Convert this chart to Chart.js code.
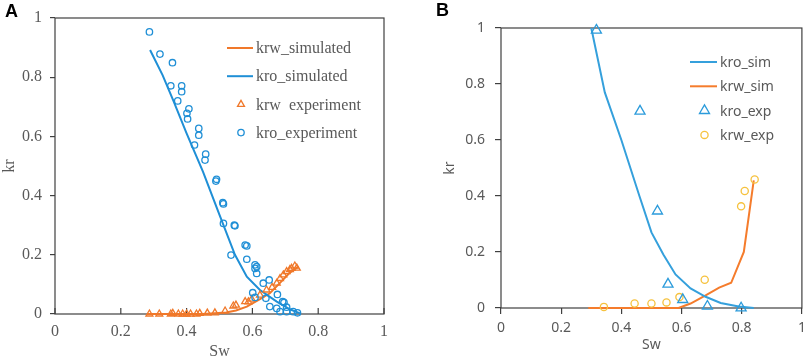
<!DOCTYPE html>
<html>
<head>
<meta charset="utf-8">
<script src="https://cdn.jsdelivr.net/npm/chart.js@4.4.1/dist/chart.umd.min.js"></script>
<style>
  body { margin: 0; background: #fff; width: 809px; height: 358px; position: relative; overflow: hidden; }
  .wrap { position: absolute; top: 0; height: 358px; }
  #wrapA { left: 0; width: 405px; }
  #wrapB { left: 405px; width: 404px; }
  .tag { position: absolute; font: bold 18px "Liberation Sans", Arial, sans-serif; color: #000; }
</style>
</head>
<body>
<div class="wrap" id="wrapA"><canvas id="chartA"></canvas></div>
<div class="wrap" id="wrapB"><canvas id="chartB"></canvas></div>
<div class="tag" style="left:5px;top:1px">A</div>
<div class="tag" style="left:436px;top:0px">B</div>
<script>
// ---- panel A data (Sw, kr) ----
const krwSimA = [[0.28, 0], [0.45, 0], [0.52, 0.005], [0.55, 0.012], [0.583, 0.025], [0.623, 0.05],
  [0.653, 0.07], [0.684, 0.105], [0.714, 0.14], [0.74, 0.16]];
const kroSimA = [[0.289, 0.892], [0.327, 0.807], [0.36, 0.72], [0.40, 0.61], [0.45, 0.48], [0.50, 0.335],
  [0.547, 0.20], [0.583, 0.126], [0.623, 0.081], [0.674, 0.042], [0.714, 0.016], [0.745, 0.002]];
const krwExpA = [[0.287, 0], [0.317, 0], [0.352, 0], [0.358, 0.002], [0.375, 0], [0.388, 0], [0.40, 0],
  [0.412, 0], [0.43, 0], [0.44, 0.002], [0.463, 0.003], [0.486, 0.004], [0.517, 0.01], [0.542, 0.027],
  [0.55, 0.03], [0.578, 0.042], [0.588, 0.041], [0.598, 0.05], [0.623, 0.064], [0.643, 0.081],
  [0.66, 0.09], [0.674, 0.104], [0.684, 0.12], [0.694, 0.132], [0.704, 0.143], [0.714, 0.15],
  [0.719, 0.154], [0.729, 0.162], [0.735, 0.155]];
const kroExpA = [[0.287, 0.953], [0.319, 0.878], [0.357, 0.849], [0.352, 0.771], [0.385, 0.771],
  [0.385, 0.751], [0.373, 0.72], [0.407, 0.693], [0.401, 0.678], [0.403, 0.659], [0.437, 0.627],
  [0.437, 0.604], [0.424, 0.571], [0.458, 0.54], [0.456, 0.52], [0.491, 0.455], [0.489, 0.449],
  [0.51, 0.376], [0.512, 0.372], [0.512, 0.306], [0.545, 0.30], [0.547, 0.298], [0.535, 0.199],
  [0.578, 0.233], [0.583, 0.23], [0.583, 0.185], [0.608, 0.166], [0.613, 0.16], [0.608, 0.154],
  [0.613, 0.137], [0.651, 0.115], [0.633, 0.104], [0.601, 0.072], [0.608, 0.056], [0.641, 0.053],
  [0.676, 0.066], [0.692, 0.042], [0.696, 0.039], [0.653, 0.025], [0.674, 0.019], [0.704, 0.023],
  [0.684, 0.008], [0.704, 0.008], [0.724, 0.008], [0.737, 0.004]];

// ---- panel B data (Sw, kr) ----
const kroSimB = [[0.30, 1.0], [0.345, 0.77], [0.40, 0.60], [0.46, 0.40], [0.50, 0.27], [0.54, 0.19],
  [0.58, 0.12], [0.63, 0.07], [0.68, 0.04], [0.73, 0.018], [0.79, 0.005], [0.84, 0.0]];
const krwSimB = [[0.29, 0], [0.59, 0], [0.63, 0.016], [0.68, 0.045], [0.725, 0.073], [0.765, 0.09],
  [0.807, 0.2], [0.84, 0.456]];
const kroExpB = [[0.317, 0.992], [0.462, 0.703], [0.52, 0.346], [0.555, 0.085], [0.604, 0.03],
  [0.686, 0.006], [0.798, 0.0]];
const krwExpB = [[0.342, 0.004], [0.444, 0.016], [0.50, 0.016], [0.55, 0.02], [0.593, 0.039],
  [0.677, 0.101], [0.798, 0.363], [0.81, 0.418], [0.843, 0.459]];

const axisTicks = [0, 0.2, 0.4, 0.6, 0.8, 1];

const toXY = (arr) => arr.map((p) => ({ x: p[0], y: p[1] }));

function lineSet(label, data, color) {
  return { label, data: toXY(data), showLine: true, borderColor: color, borderWidth: 2,
    pointRadius: 0, tension: 0, clip: false, legendKind: "line" };
}
function pointSet(label, data, color, style, radius) {
  return { label, data: toXY(data), showLine: false, borderColor: color, backgroundColor: "rgba(0,0,0,0)",
    pointStyle: style, pointRadius: radius, borderWidth: 1.3, clip: false, legendKind: "point" };
}

function marker(ctx, style, r, x, y) {
  ctx.beginPath();
  if (style === "triangle") {
    let rad = 0;
    ctx.moveTo(x + Math.sin(rad) * r, y - Math.cos(rad) * r);
    rad += Math.PI * 2 / 3;
    ctx.lineTo(x + Math.sin(rad) * r, y - Math.cos(rad) * r);
    rad += Math.PI * 2 / 3;
    ctx.lineTo(x + Math.sin(rad) * r, y - Math.cos(rad) * r);
    ctx.closePath();
  } else {
    ctx.arc(x, y, r, 0, Math.PI * 2);
  }
  ctx.stroke();
}

// box round the plot area, inward x ticks where asked, and a legend inside the plot
const framePlugin = {
  id: "frame",
  beforeDatasetsDraw(chart, args, opts) {
    const { ctx, chartArea: a, scales } = chart;
    ctx.save();
    ctx.strokeStyle = "#404040";
    ctx.lineWidth = 1.2;
    ctx.strokeRect(a.left, a.top, a.right - a.left, a.bottom - a.top);
    if (opts.innerXTicks) {
      axisTicks.forEach((v) => {
        const px = scales.x.getPixelForValue(v);
        ctx.beginPath();
        ctx.moveTo(px, a.bottom);
        ctx.lineTo(px, a.bottom - opts.innerXTicks);
        ctx.stroke();
      });
    }
    ctx.restore();
  },
  afterDatasetsDraw(chart, args, opts) {
    const { ctx } = chart;
    const L = opts.legend;
    ctx.save();
    ctx.font = L.font;
    ctx.textBaseline = "middle";
    ctx.fillStyle = "#595959";
    L.order.forEach((idx, i) => {
      const ds = chart.data.datasets[idx];
      const y = L.y + i * L.gap;
      ctx.strokeStyle = ds.borderColor;
      if (ds.legendKind === "line") {
        ctx.lineWidth = 2;
        ctx.beginPath();
        ctx.moveTo(L.x, y);
        ctx.lineTo(L.x + L.lineLen, y);
        ctx.stroke();
      } else {
        ctx.lineWidth = 1.3;
        marker(ctx, ds.pointStyle, ds.pointRadius, L.x + L.lineLen / 2 + 1, y);
      }
      ctx.fillText(ds.label, L.textX, y + 1);
    });
    ctx.restore();
  },
};

function scaleOpts(cfg) {
  return {
    type: "linear", min: 0, max: 1,
    ticks: { stepSize: 0.2, color: "#595959", font: cfg.font, padding: cfg.pad,
      callback: (v) => String(+Number(v).toFixed(1)) },
    grid: { drawOnChartArea: false, drawTicks: cfg.tick > 0, tickLength: cfg.tick, color: "#404040", lineWidth: 1.2 },
    border: { display: false },
    title: { display: true, text: cfg.title, color: "#595959", font: cfg.titleFont, padding: cfg.titlePad },
    afterFit: cfg.fit,
  };
}

// x axis: fixed height, and no extra side padding for the end labels
const fitX = (h) => (s) => { s.height = h; s.paddingLeft = 0; s.paddingRight = 0; };

// ---- panel A ----
const serif = "'Liberation Serif', 'Times New Roman', serif";
new Chart(document.getElementById("chartA"), {
  type: "scatter",
  data: {
    datasets: [
      pointSet("kro_experiment", kroExpA, "#1f8fd6", "circle", 3.2),
      pointSet("krw  experiment", krwExpA, "#f0782a", "triangle", 4),
      lineSet("kro_simulated", kroSimA, "#1f8fd6"),
      lineSet("krw_simulated", krwSimA, "#f0782a"),
    ],
  },
  options: {
    responsive: true, maintainAspectRatio: false, animation: false,
    layout: { padding: { left: 0, top: 18, right: 21, bottom: 0 } },
    scales: {
      x: scaleOpts({ font: { family: serif, size: 16 }, pad: 8, tick: 0, title: "Sw",
        titleFont: { family: serif, size: 16, lineHeight: 0.8 }, titlePad: { top: 0, bottom: 0 },
        fit: fitX(44) }),
      y: scaleOpts({ font: { family: serif, size: 16 }, pad: 8, tick: 5, title: "kr",
        titleFont: { family: serif, size: 16 }, titlePad: { top: 0, bottom: 0 },
        fit: (s) => { s.width = 55; } }),
    },
    plugins: {
      legend: { display: false }, tooltip: { enabled: false },
      frame: { innerXTicks: 6, legend: { x: 227, lineLen: 26, textX: 256, y: 48, gap: 28.2,
        font: "16px " + serif, order: [3, 2, 1, 0] } },
    },
  },
  plugins: [framePlugin],
});

// ---- panel B ----
const sans = "'Noto Sans', 'Open Sans', sans-serif";
new Chart(document.getElementById("chartB"), {
  type: "scatter",
  data: {
    datasets: [
      pointSet("kro_exp", kroExpB, "#2b9bdb", "triangle", 5.8),
      pointSet("krw_exp", krwExpB, "#f6c23e", "circle", 3.6),
      lineSet("kro_sim", kroSimB, "#35a0dc"),
      lineSet("krw_sim", krwSimB, "#f57c2c"),
    ],
  },
  options: {
    responsive: true, maintainAspectRatio: false, animation: false,
    layout: { padding: { left: 0, top: 28, right: 6, bottom: 0 } },
    scales: {
      x: scaleOpts({ font: { family: sans, size: 14 }, pad: 6, tick: 6, title: "Sw",
        titleFont: { family: sans, size: 14 }, titlePad: { top: 0, bottom: 5 },
        fit: fitX(50) }),
      y: scaleOpts({ font: { family: sans, size: 14 }, pad: 10, tick: 6, title: "kr",
        titleFont: { family: sans, size: 14 }, titlePad: { top: 37, bottom: 0 },
        fit: (s) => { s.width = 96; } }),
    },
    plugins: {
      legend: { display: false }, tooltip: { enabled: false },
      frame: { innerXTicks: 0, legend: { x: 285, lineLen: 27, textX: 315, y: 62, gap: 24.3,
        font: "14px " + sans, order: [2, 3, 0, 1] } },
    },
  },
  plugins: [framePlugin],
});
</script>
</body>
</html>
